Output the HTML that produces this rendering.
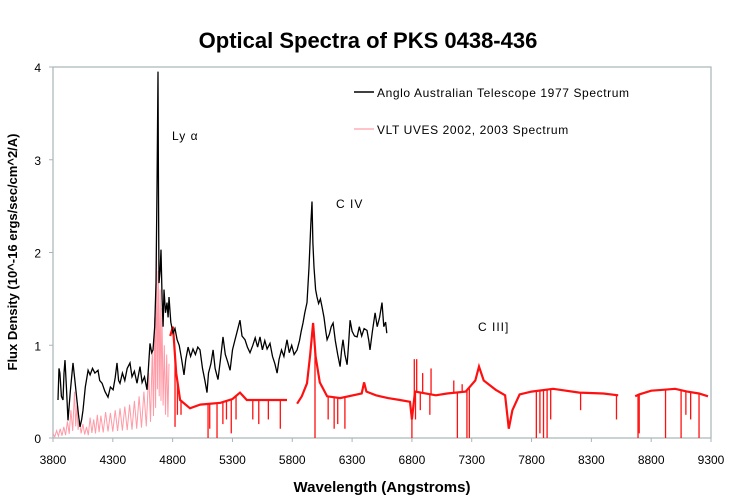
<!DOCTYPE html>
<html><head><meta charset="utf-8"><style>
html,body{margin:0;padding:0;background:#fff;}
svg{display:block;font-family:"Liberation Sans",Arial,sans-serif;}
</style></head><body>
<svg id="chart" width="736" height="504" viewBox="0 0 736 504">
<text x="368" y="48" text-anchor="middle" font-size="22" font-weight="bold">Optical Spectra of PKS 0438-436</text>
<g id="axes"></g>
<g id="series"></g>
<text x="17" y="252" transform="rotate(-90 17 252)" text-anchor="middle" font-size="13" font-weight="bold">Flux Density (10^-16 ergs/sec/cm^2/A)</text>
<text x="382" y="492" text-anchor="middle" font-size="15" font-weight="bold">Wavelength (Angstroms)</text>
<text x="172" y="140" font-size="12" letter-spacing="1">Ly α</text>
<text x="336" y="208" font-size="12" letter-spacing="1">C IV</text>
<text x="478" y="331" font-size="12" letter-spacing="1">C III]</text>
<g>
<line x1="354" y1="92" x2="374" y2="92" stroke="#000" stroke-width="1.5"/>
<text x="377" y="97" font-size="12" letter-spacing="0.6">Anglo Australian Telescope 1977 Spectrum</text>
<line x1="354" y1="129" x2="374" y2="129" stroke="#ffb0b8" stroke-width="1.5"/>
<text x="377" y="134" font-size="12" letter-spacing="0.6">VLT UVES 2002, 2003 Spectrum</text>
</g>
</svg>
<script>
const xTicks=[3800,4300,4800,5300,5800,6300,6800,7300,7800,8300,8800,9300];
const yTicks=[0,1,2,3,4];
const aatWl=[3842,3850,3858,3870,3884,3892,3900,3912,3925,3945,3967,3985,4000,4013,4026,4040,4051,4070,4093,4110,4130,4150,4176,4190,4210,4235,4260,4280,4302,4320,4335,4348,4360,4380,4400,4420,4444,4460,4480,4502,4515,4527,4545,4565,4586,4600,4611,4625,4636,4650,4661,4670,4678,4682,4686,4695,4703,4712,4720,4728,4740,4753,4762,4770,4785,4803,4820,4837,4855,4875,4895,4910,4929,4950,4970,4990,5010,5029,5050,5070,5087,5100,5120,5138,5155,5179,5200,5221,5240,5260,5280,5300,5320,5340,5363,5380,5405,5425,5447,5470,5490,5510,5530,5550,5570,5590,5614,5635,5655,5673,5690,5710,5730,5756,5775,5795,5815,5840,5860,5875,5890,5905,5923,5940,5955,5965,5972,5982,5995,6007,6020,6035,6049,6065,6080,6091,6110,6125,6141,6160,6180,6200,6212,6224,6240,6258,6270,6283,6300,6320,6342,6360,6380,6400,6425,6440,6450,6470,6492,6510,6530,6550,6565,6580,6590];
const aatFlux=[0.41,0.75,0.70,0.45,0.41,0.70,0.84,0.55,0.19,0.50,0.81,0.60,0.41,0.25,0.12,0.20,0.30,0.55,0.73,0.68,0.75,0.70,0.73,0.62,0.59,0.50,0.44,0.55,0.52,0.65,0.81,0.62,0.59,0.70,0.62,0.75,0.81,0.66,0.72,0.59,0.68,0.77,0.60,0.66,0.52,0.80,1.02,0.92,0.95,1.20,1.67,2.80,3.95,2.60,1.67,1.80,2.03,1.50,1.20,1.60,1.35,1.46,1.30,1.52,1.25,1.13,1.18,1.06,1.00,0.85,0.68,0.85,0.98,0.88,0.96,0.90,0.98,0.95,0.75,0.62,0.49,0.70,0.80,0.95,0.75,0.63,0.85,1.09,0.90,0.82,0.73,0.95,1.05,1.15,1.27,1.10,1.06,0.98,0.92,1.00,1.08,0.98,1.09,0.95,1.05,0.96,1.02,0.88,0.80,0.70,0.85,0.95,0.88,1.06,0.92,1.00,0.90,0.95,1.05,1.15,1.24,1.35,1.46,1.84,2.30,2.55,2.10,1.84,1.60,1.52,1.45,1.50,1.41,1.30,1.15,1.06,1.12,1.20,1.24,1.05,0.90,0.77,0.95,1.06,0.90,0.79,1.00,1.27,1.15,1.10,1.09,1.20,1.10,1.18,1.16,1.05,0.95,1.15,1.35,1.20,1.30,1.46,1.20,1.25,1.13];
const pinkWl=[3800,3830,3860,3890,3920,3950,3980,4000,4020,4050,4080,4110,4140,4170,4200,4240,4280,4320,4360,4400,4440,4480,4520,4560,4600,4630,4650,4665,4680,4695,4710,4730,4750,4770];
const pinkFlux=[0.05,0.08,0.10,0.12,0.18,0.30,0.50,0.35,0.20,0.15,0.12,0.22,0.20,0.25,0.24,0.28,0.27,0.30,0.32,0.34,0.36,0.40,0.45,0.50,0.70,0.95,1.30,2.10,1.80,1.60,1.40,1.00,0.90,0.80];
const redWl=[4780,4803,4830,4862,4945,5030,5200,5300,5363,5420,5600,5756];
const redFlux=[1.10,1.20,0.70,0.41,0.32,0.36,0.38,0.42,0.49,0.41,0.41,0.41];
const red2Wl=[5840,5880,5923,5950,5974,5995,6030,6091,6200,6380,6400,6420,6500,6600,6700,6784,6800,6826,7000,7094,7250,7330,7361,7400,7500,7579,7610,7640,7700,7800,7980,8200,8400,8524];
const red2Flux=[0.37,0.45,0.59,0.90,1.24,0.88,0.60,0.45,0.43,0.48,0.60,0.50,0.46,0.43,0.41,0.39,0.20,0.50,0.46,0.48,0.50,0.62,0.77,0.62,0.52,0.46,0.10,0.30,0.47,0.50,0.53,0.49,0.48,0.46];
const red3Wl=[8666,8700,8800,8900,9000,9100,9200,9275];
const red3Flux=[0.45,0.47,0.51,0.52,0.53,0.50,0.48,0.45];
const absWl=[4820,4840,4870,5096,5110,5171,5220,5250,5290,5330,5470,5520,5600,5700,5990,6100,6150,6180,6240,6800,6830,6870,6950,7180,7260,7280,7840,7870,7900,7930,7960,8210,8510,8690,8700,8920,9050,9090,9130,9200];
const absFlux=[0.12,0.25,0.25,0.00,0.10,0.00,0.15,0.20,0.05,0.20,0.20,0.15,0.20,0.10,0.00,0.20,0.10,0.15,0.10,0.00,0.20,0.30,0.25,0.00,0.00,0.00,0.00,0.05,0.00,0.00,0.20,0.30,0.20,0.00,0.05,0.00,0.00,0.25,0.20,0.00];
const spikeWl=[6820,6840,6890,6960,7150,7220];
const spikeFlux=[0.85,0.85,0.70,0.75,0.62,0.58];

const L=53,R=711,T=67,B=438;
const xs=w=>L+(w-3800)/(9300-3800)*(R-L);
const ys=v=>B-v/4*(B-T);
const NS='http://www.w3.org/2000/svg';
function mk(tag,parent,attrs){const e=document.createElementNS(NS,tag);for(const k in attrs)e.setAttribute(k,attrs[k]);parent.appendChild(e);return e;}
const ax=document.getElementById('axes'),sg=document.getElementById('series');
const frame=mk('rect',ax,{x:L,y:T,width:R-L,height:B-T,fill:'none',stroke:'#a8b4b8','stroke-width':1.2});


xTicks.forEach(t=>{
  const tk=mk('line',ax,{x1:xs(t),x2:xs(t),y1:B,y2:B+4,stroke:'#a8b4b8'});
  
  
  const lb=mk('text',ax,{x:xs(t),y:B+26,'text-anchor':'middle','font-size':12});
  lb.textContent=t;
  
  
});
yTicks.forEach(t=>{
  const tk=mk('line',ax,{x1:L-4,x2:L,y1:ys(t),y2:ys(t),stroke:'#a8b4b8'});
  
  
  const lb=mk('text',ax,{x:L-12,y:ys(t)+5,'text-anchor':'end','font-size':12});
  lb.textContent=t;
  
  
});
function pts(w,f){return w.map((x,i)=>xs(x).toFixed(1)+','+ys(f[i]).toFixed(1)).join(' ');}
let pp=[];
pinkWl.forEach((w,i)=>{pp.push(xs(w).toFixed(1)+','+ys(pinkFlux[i]).toFixed(1));if(i<pinkWl.length-1){const m=(w+pinkWl[i+1])/2;pp.push(xs(m).toFixed(1)+','+ys(pinkFlux[i]*0.25).toFixed(1));}});
const pk=mk('polyline',sg,{points:pp.join(' '),fill:'none',stroke:'#ff9aa6','stroke-width':1});


[[redWl,redFlux],[red2Wl,red2Flux],[red3Wl,red3Flux]].forEach(([w,f])=>{
  const pl=mk('polyline',sg,{points:pts(w,f),fill:'none',stroke:'#ff1010','stroke-width':2.2});
  
  
});
function contAt(w){for(const [a,b] of [[redWl,redFlux],[red2Wl,red2Flux],[red3Wl,red3Flux]]){for(let i=0;i<a.length-1;i++){if(w>=a[i]&&w<=a[i+1]){return b[i]+(b[i+1]-b[i])*(w-a[i])/(a[i+1]-a[i]);}}}return 0.42;}
absWl.forEach((w,i)=>{
  const ln=mk('line',sg,{x1:xs(w),x2:xs(w),y1:ys(contAt(w)),y2:ys(absFlux[i]),stroke:'#ff1010','stroke-width':1.3});
  
  
});
spikeWl.forEach((w,i)=>{
  const ln=mk('line',sg,{x1:xs(w),x2:xs(w),y1:ys(contAt(w)),y2:ys(spikeFlux[i]),stroke:'#ff1010','stroke-width':1.3});
  
  
});
const bk=mk('polyline',sg,{points:pts(aatWl,aatFlux),fill:'none',stroke:'#000','stroke-width':1.3});


</script>
</body></html>
